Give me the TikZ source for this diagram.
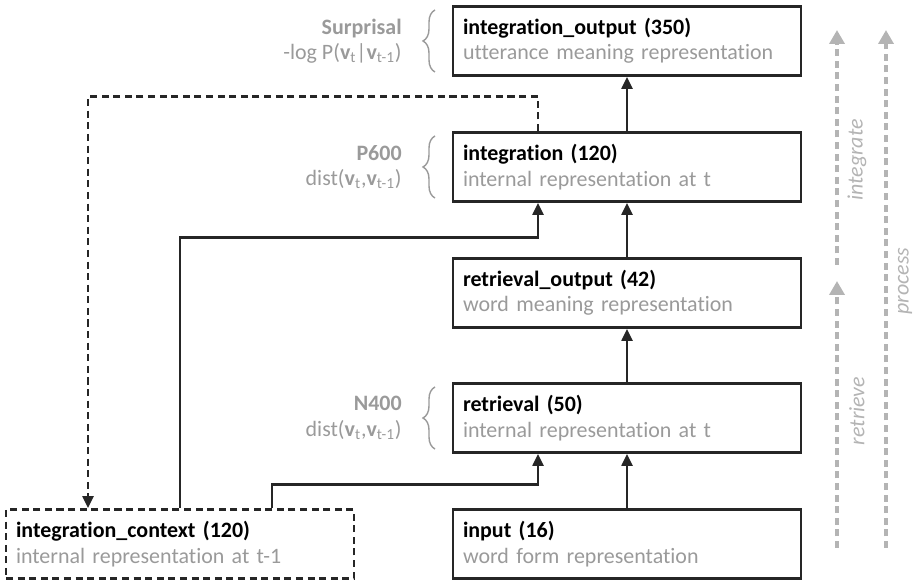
\documentclass[tikz,border=0pt]{standalone}
\usepackage{fontspec}
\setmainfont{Carlito}[Ligatures=NoCommon]
\usetikzlibrary{arrows.meta,decorations.pathreplacing}

\definecolor{boxline}{HTML}{262626}
\definecolor{labelgray}{HTML}{9A9A9A}
\definecolor{flowgray}{HTML}{B4B4B4}

\newcommand{\lyr}[2]{\textbf{#1}\\\textcolor{labelgray}{#2}}
\newcommand{\vt}[1]{\textbf{v}\textsubscript{#1}}

\tikzset{
  txt/.style={font=\fontsize{12.5}{14.4}\selectfont},
  layer/.style={txt, draw=boxline, line width=1.7pt, text width=6.56cm, align=left,
    inner xsep=0.2cm, minimum height=1.38cm},
  ctxlayer/.style={layer, dash pattern=on 4pt off 2.6pt},
  link/.style={boxline, line width=1.4pt, -{Triangle[width=0.22cm,length=0.24cm]}},
  ctxlink/.style={link, dash pattern=on 4pt off 2.6pt},
  erp/.style={txt, text=labelgray, align=right, anchor=east, inner sep=0pt},
  erpbrace/.style={decorate, decoration={brace,amplitude=0.24cm}, labelgray, line width=0.8pt},
  flow/.style={flowgray, line width=2.3pt, dash pattern=on 4pt off 2.6pt,
    -{Triangle[width=0.3cm,length=0.28cm]}},
  flowlabel/.style={txt, text=flowgray, font=\fontsize{12.5}{14.4}\selectfont\itshape, rotate=90}
}

\begin{document}
\begin{tikzpicture}
\useasboundingbox (0,0) rectangle (18.32,-11.64);

% layers
\node[layer] (integout) at (12.54,-0.82) {\lyr{integration\_output (350)}{utterance meaning representation}};
\node[layer] (integ) at (12.54,-3.34) {\lyr{integration (120)}{internal representation at t}};
\node[layer] (retout) at (12.54,-5.86) {\lyr{retrieval\_output (42)}{word meaning representation}};
\node[layer] (ret) at (12.54,-8.36) {\lyr{retrieval (50)}{internal representation at t}};
\node[layer] (inp) at (12.54,-10.88) {\lyr{input (16)}{word form representation}};
\node[ctxlayer] (ctx) at (3.6,-10.88) {\lyr{integration\_context (120)}{internal representation at t-1}};

% forward connections
\draw[link] (inp) -- (ret);
\draw[link] (ret) -- (retout);
\draw[link] (retout) -- (integ);
\draw[link] (integ) -- (integout);
\draw[link] ([xshift=1.84cm]ctx.north) -- ++(0,0.47) -| ([xshift=-1.78cm]ret.south);
\draw[link] (ctx.north) |- ([xshift=-1.78cm,yshift=-0.69cm]integ.south) -- ([xshift=-1.78cm]integ.south);
% copy back into the context
\draw[ctxlink] ([xshift=-1.78cm]integ.north) -- ++(0,0.69) -| ([xshift=-1.84cm]ctx.north);

% ERP estimates
\node[erp] (surp) at (8.04,-0.82) {\textbf{Surprisal}\\-log P(\vt{t}|\vt{t-1})};
\node[erp] (p600) at (8.04,-3.34) {\textbf{P600}\\dist(\vt{t},\vt{t-1})};
\node[erp] (n400) at (8.04,-8.36) {\textbf{N400}\\dist(\vt{t},\vt{t-1})};
\draw[erpbrace] (8.7,-1.44) -- (8.7,-0.2);
\draw[erpbrace] (8.7,-3.96) -- (8.7,-2.72);
\draw[erpbrace] (8.7,-8.98) -- (8.7,-7.74);

% processing stages
\coordinate (rb) at (16.74,-10.96);
\coordinate (rt) at (16.74,-5.62);
\coordinate (ib) at (16.74,-5.3);
\coordinate (it) at (16.74,-0.6);
\coordinate (pb) at (17.72,-10.96);
\coordinate (pt) at (17.72,-0.6);
\draw[flow] (rb) -- (rt);
\draw[flow] (ib) -- (it);
\draw[flow] (pb) -- (pt);
\node[flowlabel] (retl) at (17.14,-8.22) {retrieve};
\node[flowlabel] (intl) at (17.14,-3.2) {integrate};
\node[flowlabel] (procl) at (18.1,-5.62) {process};
\end{tikzpicture}
\end{document}
